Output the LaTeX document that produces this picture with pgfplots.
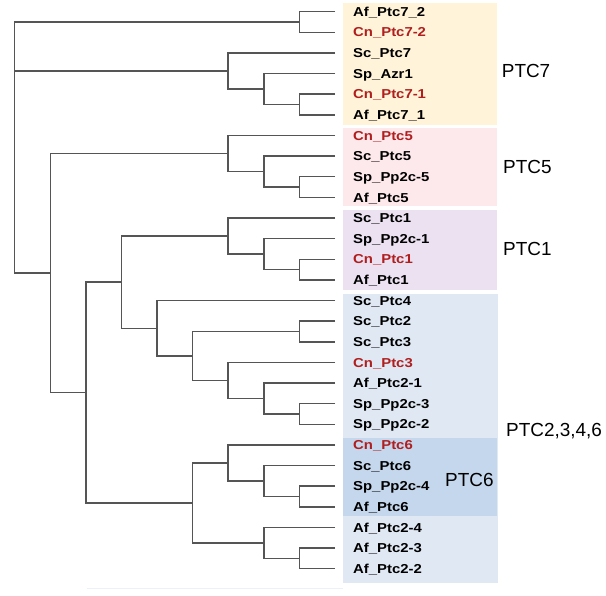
\documentclass[border=0pt]{standalone}
\usepackage{pgfplots}
\pgfplotsset{compat=1.18}
\usepackage{graphicx}
\usepackage{fontspec}
\setmainfont{Liberation Sans}
\definecolor{treegray}{HTML}{555555}
\definecolor{cnred}{HTML}{B01E1E}
\definecolor{bseven}{HTML}{FFF4D9}
\definecolor{bfive}{HTML}{FDE9EC}
\definecolor{bone}{HTML}{EBE1F1}
\definecolor{btwo}{HTML}{DFE8F3}
\definecolor{bsix}{HTML}{C5D7EC}
\newcommand{\leaf}[3]{\node[anchor=base west, yshift=-4.65bp, inner sep=0pt, text=#3, font=\fontsize{13}{13}\selectfont\bfseries] at (axis cs:9.505,#1) {\scalebox{1.15}[1]{#2}};}
\newcommand{\grp}[3]{\node[anchor=base west, yshift=-6.8bp, inner sep=0pt, font=\fontsize{19}{19}\selectfont] at (axis cs:#1,#2) {#3};}
\pgfplotsset{tree/.style={draw=treegray, line width=1.5bp, mark=none, solid, sharp plot}}
\begin{document}
\begin{tikzpicture}
\begin{axis}[
  scale only axis, width=606bp, height=596bp,
  xmin=-0.413, xmax=16.614, ymin=0.4329, ymax=29.322,
  y dir=reverse, hide axis, clip=false,
]
\fill[white] (rel axis cs:0,0) rectangle (rel axis cs:1,1);
% background boxes
\fill[bseven] (axis cs:9.233,0.593) rectangle (axis cs:13.543,6.492);
\fill[bfive] (axis cs:9.233,6.652) rectangle (axis cs:13.543,10.418);
\fill[bone] (axis cs:9.233,10.612) rectangle (axis cs:13.543,14.49);
\fill[btwo] (axis cs:9.233,14.684) rectangle (axis cs:13.588,28.707);
\fill[bsix] (axis cs:9.233,21.65) rectangle (axis cs:13.543,25.45);
\draw[color=btwo!60, line width=1.5bp] (axis cs:2.02,28.95) -- (axis cs:9.233,28.95);
% tree
\addplot[tree] coordinates {(8,1.5) (0,1.5) (0,13.668) (1,13.668)};
\addplot[tree] coordinates {(0,3.875) (6,3.875)};
\addplot[tree] coordinates {(9,1) (8,1) (8,2) (9,2)};
\addplot[tree] coordinates {(9,3) (6,3) (6,4.75) (7,4.75)};
\addplot[tree] coordinates {(9,4) (7,4) (7,5.5) (8,5.5)};
\addplot[tree] coordinates {(9,5) (8,5) (8,6) (9,6)};
\addplot[tree] coordinates {(6,7.875) (1,7.875) (1,19.461) (2,19.461)};
\addplot[tree] coordinates {(9,7) (6,7) (6,8.75) (7,8.75)};
\addplot[tree] coordinates {(9,8) (7,8) (7,9.5) (8,9.5)};
\addplot[tree] coordinates {(9,9) (8,9) (8,10) (9,10)};
\addplot[tree] coordinates {(3,14.109) (2,14.109) (2,24.8125) (5,24.8125)};
\addplot[tree] coordinates {(6,11.875) (3,11.875) (3,16.34375) (4,16.34375)};
\addplot[tree] coordinates {(9,11) (6,11) (6,12.75) (7,12.75)};
\addplot[tree] coordinates {(9,12) (7,12) (7,13.5) (8,13.5)};
\addplot[tree] coordinates {(9,13) (8,13) (8,14) (9,14)};
\addplot[tree] coordinates {(9,15) (4,15) (4,17.6875) (5,17.6875)};
\addplot[tree] coordinates {(8,16.5) (5,16.5) (5,18.875) (6,18.875)};
\addplot[tree] coordinates {(9,16) (8,16) (8,17) (9,17)};
\addplot[tree] coordinates {(9,18) (6,18) (6,19.75) (7,19.75)};
\addplot[tree] coordinates {(9,19) (7,19) (7,20.5) (8,20.5)};
\addplot[tree] coordinates {(9,20) (8,20) (8,21) (9,21)};
\addplot[tree] coordinates {(6,22.875) (5,22.875) (5,26.75) (7,26.75)};
\addplot[tree] coordinates {(9,22) (6,22) (6,23.75) (7,23.75)};
\addplot[tree] coordinates {(9,23) (7,23) (7,24.5) (8,24.5)};
\addplot[tree] coordinates {(9,24) (8,24) (8,25) (9,25)};
\addplot[tree] coordinates {(9,26) (7,26) (7,27.5) (8,27.5)};
\addplot[tree] coordinates {(9,27) (8,27) (8,28) (9,28)};
% leaf labels
\leaf{1}{Af\_Ptc7\_2}{black}
\leaf{2}{Cn\_Ptc7-2}{cnred}
\leaf{3}{Sc\_Ptc7}{black}
\leaf{4}{Sp\_Azr1}{black}
\leaf{5}{Cn\_Ptc7-1}{cnred}
\leaf{6}{Af\_Ptc7\_1}{black}
\leaf{7}{Cn\_Ptc5}{cnred}
\leaf{8}{Sc\_Ptc5}{black}
\leaf{9}{Sp\_Pp2c-5}{black}
\leaf{10}{Af\_Ptc5}{black}
\leaf{11}{Sc\_Ptc1}{black}
\leaf{12}{Sp\_Pp2c-1}{black}
\leaf{13}{Cn\_Ptc1}{cnred}
\leaf{14}{Af\_Ptc1}{black}
\leaf{15}{Sc\_Ptc4}{black}
\leaf{16}{Sc\_Ptc2}{black}
\leaf{17}{Sc\_Ptc3}{black}
\leaf{18}{Cn\_Ptc3}{cnred}
\leaf{19}{Af\_Ptc2-1}{black}
\leaf{20}{Sp\_Pp2c-3}{black}
\leaf{21}{Sp\_Pp2c-2}{black}
\leaf{22}{Cn\_Ptc6}{cnred}
\leaf{23}{Sc\_Ptc6}{black}
\leaf{24}{Sp\_Pp2c-4}{black}
\leaf{25}{Af\_Ptc6}{black}
\leaf{26}{Af\_Ptc2-4}{black}
\leaf{27}{Af\_Ptc2-3}{black}
\leaf{28}{Af\_Ptc2-2}{black}
% group labels
\grp{13.683}{3.884}{PTC7}
\grp{13.72}{8.513}{PTC5}
\grp{13.72}{12.469}{PTC1}
\grp{13.805}{21.277}{PTC2,3,4,6}
\grp{12.091}{23.70}{PTC6}
\end{axis}
\end{tikzpicture}
\end{document}
